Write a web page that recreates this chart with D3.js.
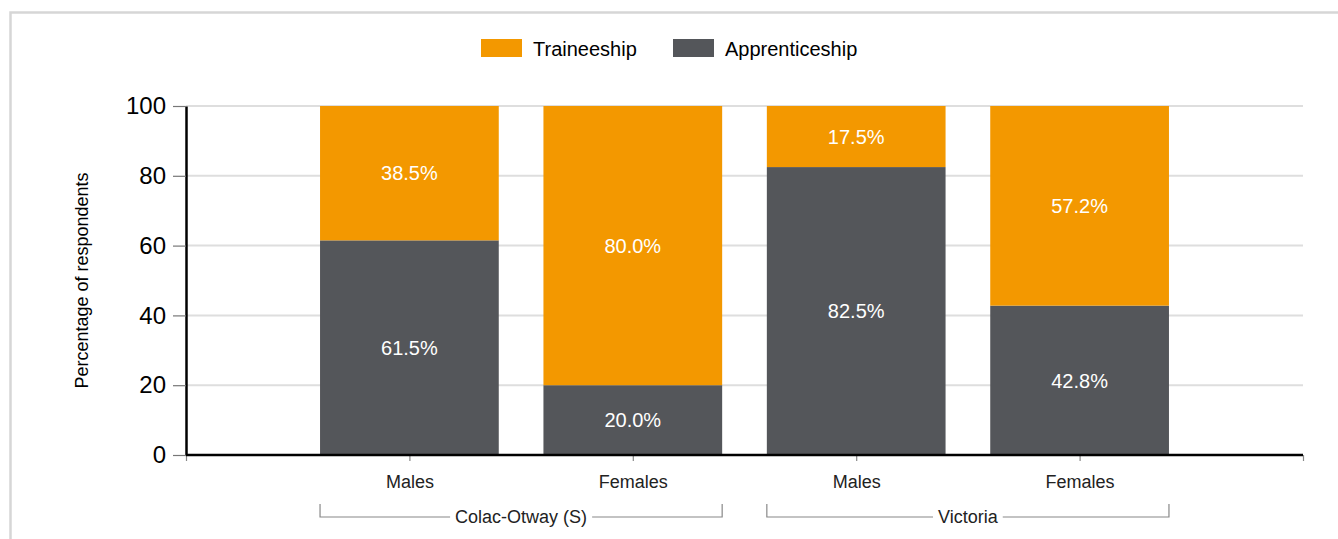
<!DOCTYPE html>
<html>
<head>
<meta charset="utf-8">
<script src="https://cdn.jsdelivr.net/npm/d3@7"></script>
<style>
  html, body { margin: 0; padding: 0; background: #fff; }
  svg { display: block; font-family: Arial, "Liberation Sans", sans-serif; }
</style>
</head>
<body>
<div id="chart"></div>
<script>
const categories = ['Males', 'Females', 'Males', 'Females'];
const regions = ['Colac-Otway (S)', 'Colac-Otway (S)', 'Victoria', 'Victoria'];
const groups = ['Colac-Otway (S)', 'Victoria'];
const apprenticeship = [61.5, 20.0, 82.5, 42.8];
const traineeship = [38.5, 80.0, 17.5, 57.2];
const yTicks = [0, 20, 40, 60, 80, 100];

const W = 1338, H = 539;
const margin = { top: 106, right: 35, bottom: 84, left: 186 };
const width = W - margin.left - margin.right;
const height = H - margin.top - margin.bottom;

const ORANGE = '#f39800';
const GREY = '#54565a';

const svg = d3.select('#chart').append('svg')
  .attr('width', W)
  .attr('height', H);

// outer frame
svg.append('path')
  .attr('d', `M10.5,${H + 5}V12.5H${W + 5}`)
  .attr('fill', 'none')
  .attr('stroke', '#d6d6d6')
  .attr('stroke-width', 2.5);

const g = svg.append('g')
  .attr('transform', `translate(${margin.left},${margin.top})`);

const keys = categories.map((c, i) => i);
const x = d3.scalePoint()
  .domain(keys)
  .range([0, width])
  .padding(1);
const barW = x.step() * 0.8;

const y = d3.scaleLinear()
  .domain([0, 100])
  .range([height, 0]);

// gridlines
g.selectAll('.grid')
  .data(yTicks.filter(d => d > 0))
  .enter().append('line')
  .attr('x1', 0)
  .attr('x2', width)
  .attr('y1', d => y(d))
  .attr('y2', d => y(d))
  .attr('stroke', '#dedede')
  .attr('stroke-width', 2);

const rows = keys.map(i => ({ i, a: apprenticeship[i], t: traineeship[i] }));

// Apprenticeship (bottom)
g.selectAll('.bar-a')
  .data(rows)
  .enter().append('rect')
  .attr('x', d => x(d.i) - barW / 2)
  .attr('width', barW)
  .attr('y', d => y(d.a))
  .attr('height', d => height - y(d.a))
  .attr('fill', GREY);

// Traineeship (top)
g.selectAll('.bar-t')
  .data(rows)
  .enter().append('rect')
  .attr('x', d => x(d.i) - barW / 2)
  .attr('width', barW)
  .attr('y', d => y(d.a + d.t))
  .attr('height', d => y(d.a) - y(d.a + d.t))
  .attr('fill', ORANGE);

// value labels
const labels = [];
rows.forEach(d => {
  labels.push({ i: d.i, v: d.a, mid: d.a / 2 });
  labels.push({ i: d.i, v: d.t, mid: d.a + d.t / 2 });
});
g.selectAll('.val')
  .data(labels)
  .enter().append('text')
  .attr('x', d => x(d.i))
  .attr('y', d => y(d.mid))
  .attr('dy', '0.36em')
  .attr('text-anchor', 'middle')
  .attr('font-size', '20px')
  .attr('fill', '#fff')
  .text(d => d.v.toFixed(1) + '%');

// y axis
const yAxis = g.append('g')
  .call(d3.axisLeft(y).tickValues(yTicks).tickSize(13).tickSizeOuter(0).tickPadding(7));
yAxis.select('.domain').attr('stroke', '#000').attr('stroke-width', 2.5);
yAxis.selectAll('.tick line').attr('stroke', '#777').attr('stroke-width', 1.2);
yAxis.selectAll('.tick text')
  .attr('font-size', '24px')
  .attr('fill', '#000')
  .attr('font-family', 'Arial, "Liberation Sans", sans-serif');

// x axis
const xAxis = g.append('g')
  .attr('transform', `translate(0,${height})`)
  .call(d3.axisBottom(x).tickSize(6).tickSizeOuter(6).tickPadding(14)
    .tickFormat(i => categories[i]));
xAxis.select('.domain').attr('stroke', '#888').attr('stroke-width', 1.2);
xAxis.append('line')
  .attr('x1', 0).attr('x2', width)
  .attr('y1', 0).attr('y2', 0)
  .attr('stroke', '#000')
  .attr('stroke-width', 2.5);
xAxis.selectAll('.tick line').attr('stroke', '#888').attr('stroke-width', 1.2);
xAxis.selectAll('.tick text')
  .attr('font-size', '18px')
  .attr('fill', '#222')
  .attr('font-family', 'Arial, "Liberation Sans", sans-serif');

// group brackets
const groupY = height + 62;
groups.forEach(name => {
  const idx = keys.filter(i => regions[i] === name);
  const x0 = x(idx[0]) - barW / 2;
  const x1 = x(idx[idx.length - 1]) + barW / 2;
  const cx = (x0 + x1) / 2;
  const t = g.append('text')
    .attr('x', cx)
    .attr('y', groupY + 6)
    .attr('text-anchor', 'middle')
    .attr('font-size', '18px')
    .attr('fill', '#222')
    .text(name);
  const tw = t.node().getComputedTextLength() / 2 + 5;
  g.append('path')
    .attr('d', `M${x0},${groupY - 13}V${groupY}H${cx - tw}M${cx + tw},${groupY}H${x1}V${groupY - 13}`)
    .attr('fill', 'none')
    .attr('stroke', '#888')
    .attr('stroke-width', 1.2);
});

// y axis title
svg.append('text')
  .attr('transform', `translate(88,${margin.top + height / 2}) rotate(-90)`)
  .attr('text-anchor', 'middle')
  .attr('font-size', '18px')
  .attr('fill', '#000')
  .text('Percentage of respondents');

// legend
const legendItems = [
  { name: 'Traineeship', color: ORANGE, x: 481 },
  { name: 'Apprenticeship', color: GREY, x: 673 }
];
const legend = svg.selectAll('.legend')
  .data(legendItems)
  .enter().append('g')
  .attr('transform', d => `translate(${d.x},39)`);
legend.append('rect')
  .attr('width', 41)
  .attr('height', 18)
  .attr('fill', d => d.color);
legend.append('text')
  .attr('x', 52)
  .attr('y', 16.5)
  .attr('font-size', '20px')
  .attr('fill', '#000')
  .text(d => d.name);
</script>
</body>
</html>
